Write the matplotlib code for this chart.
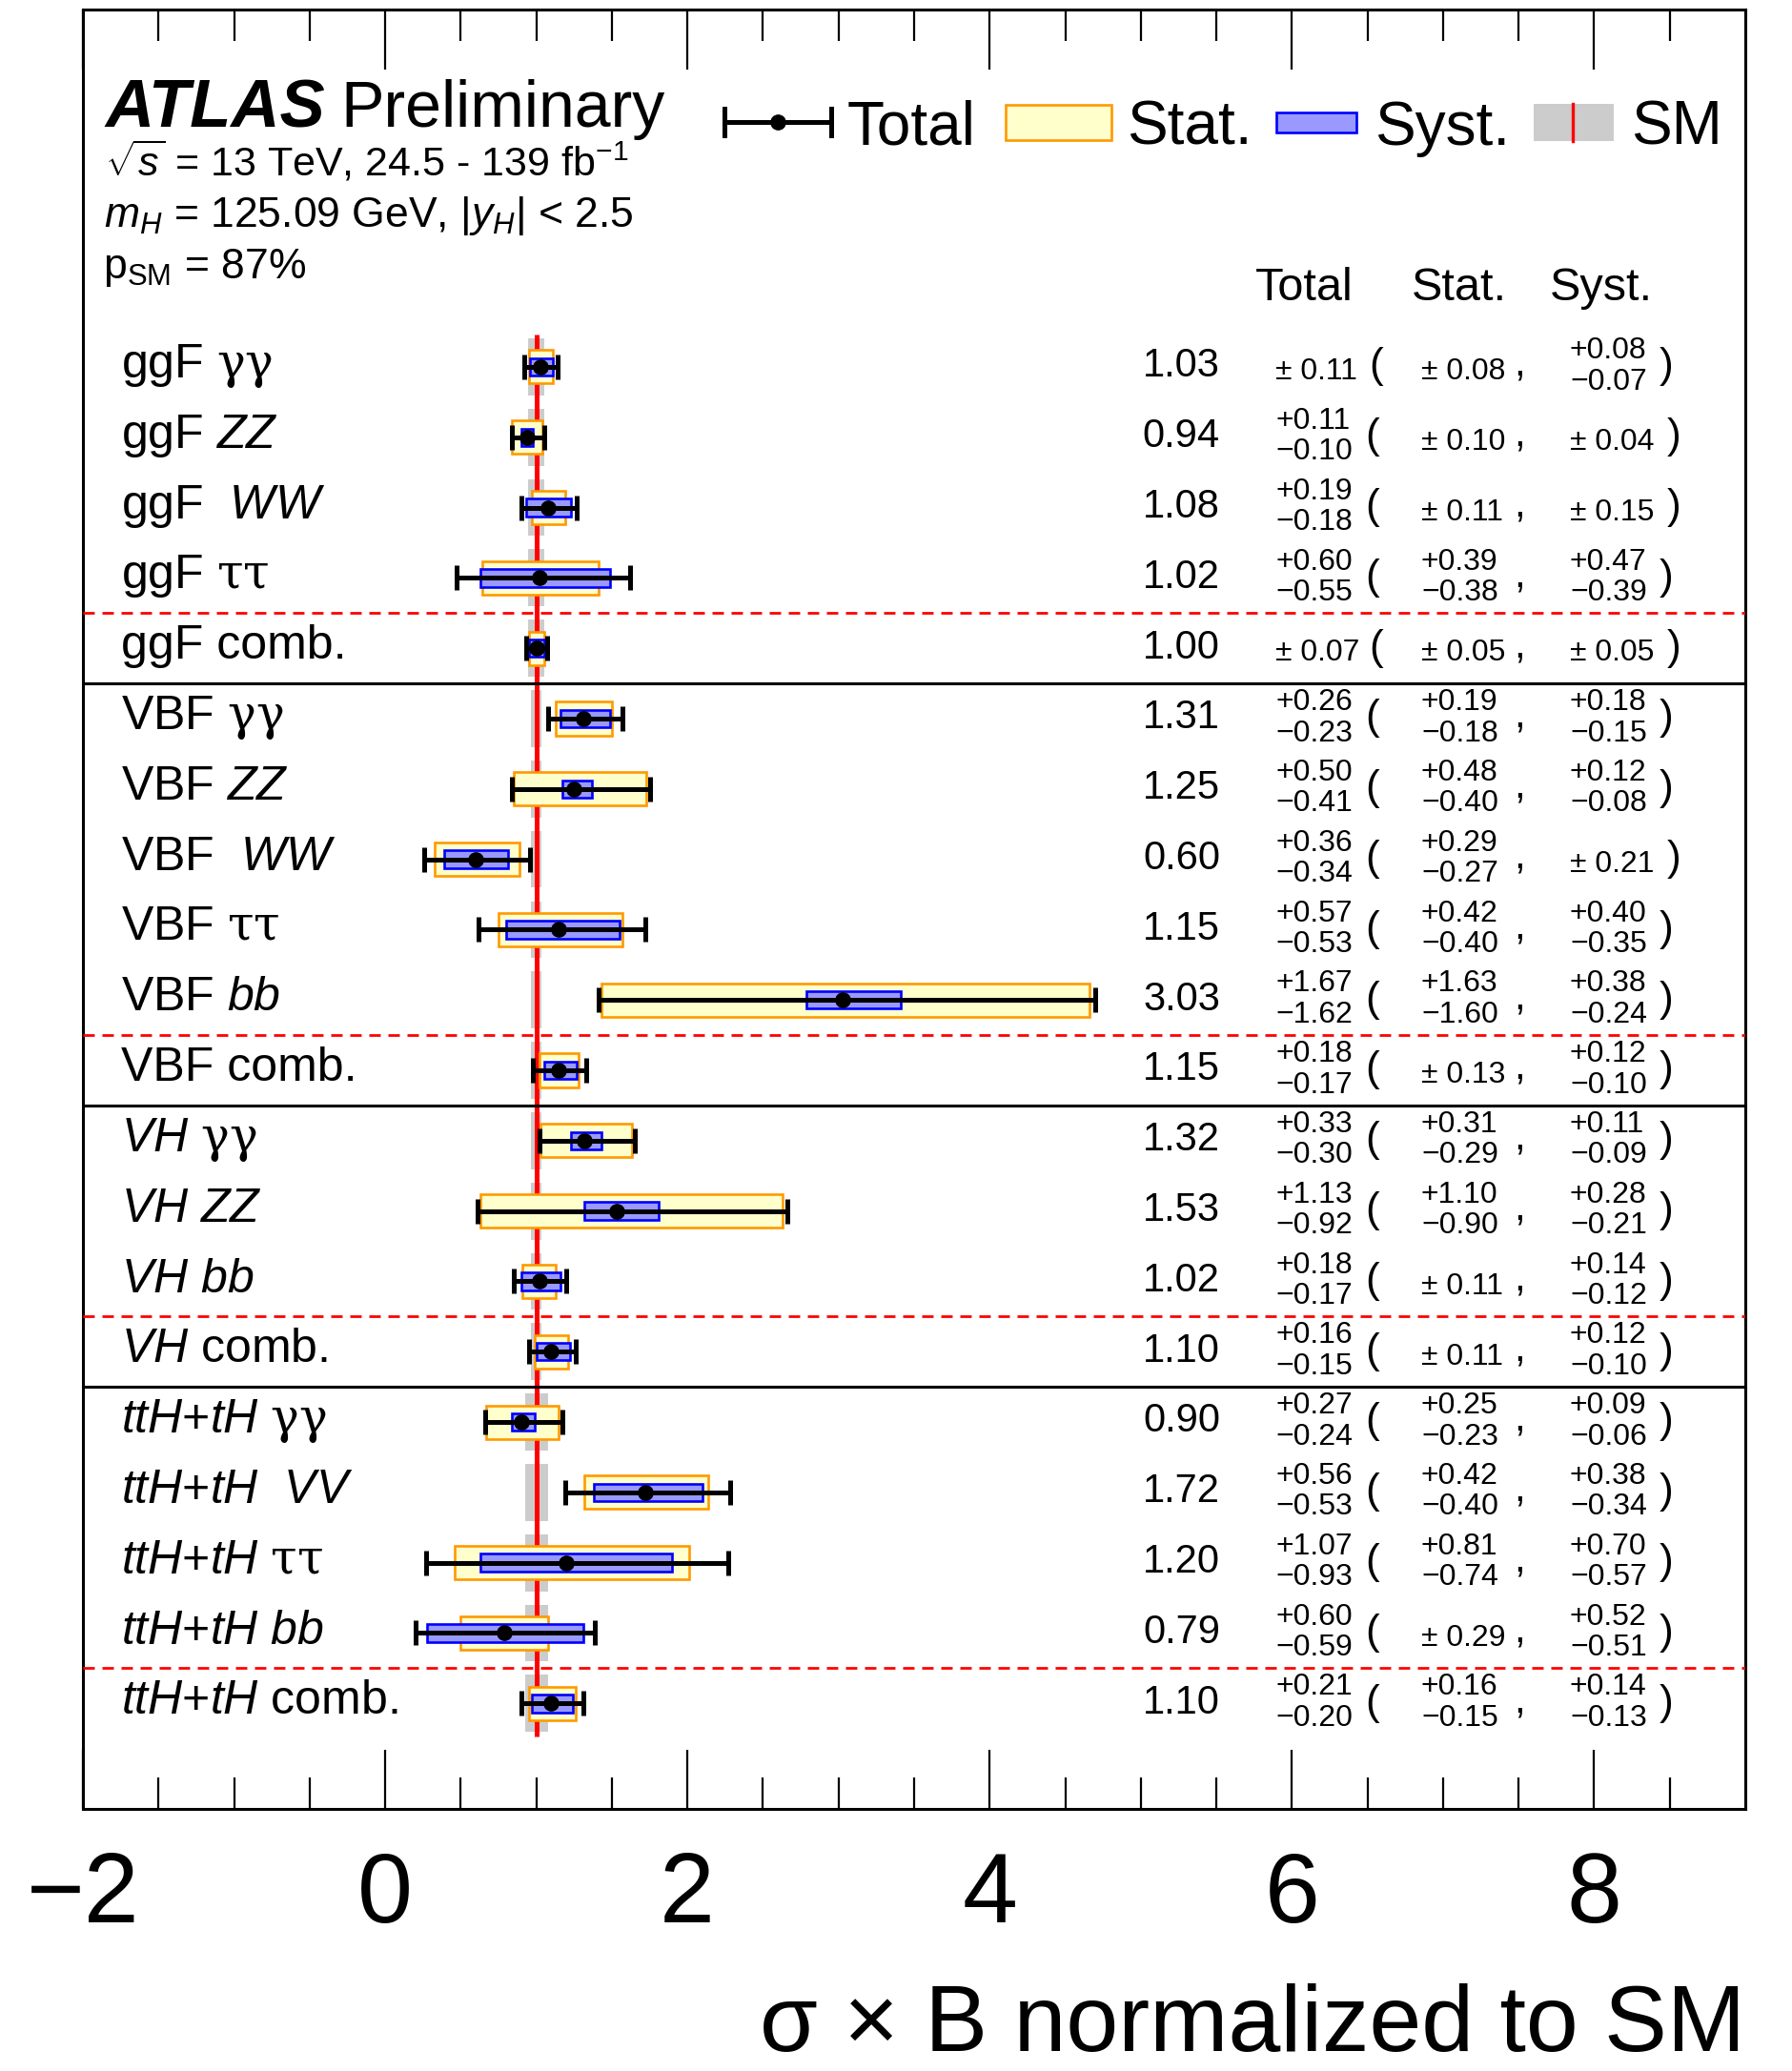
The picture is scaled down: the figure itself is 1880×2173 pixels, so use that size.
import matplotlib
matplotlib.use("Agg")
import matplotlib.pyplot as plt
import numpy as np

plt.rcParams['font.family'] = 'Liberation Sans'
plt.rcParams['mathtext.fontset'] = 'custom'
plt.rcParams['mathtext.rm'] = 'Liberation Sans'
plt.rcParams['mathtext.it'] = 'Liberation Sans:italic'
plt.rcParams['mathtext.bf'] = 'Liberation Sans:bold'
# greek decay products are set in a serif face
plt.rcParams['mathtext.sf'] = 'DejaVu Serif'

# measurements, top to bottom
labels = [
    r"ggF $\mathsf{γγ}$", "ggF $ZZ$", "ggF  $WW$", r"ggF $\mathsf{ττ}$", "ggF comb.",
    r"VBF $\mathsf{γγ}$", "VBF $ZZ$", "VBF  $WW$", r"VBF $\mathsf{ττ}$", "VBF $bb$",
    "VBF comb.",
    r"$VH$ $\mathsf{γγ}$", "$VH$ $ZZ$", "$VH$ $bb$", "$VH$ comb.",
    r"$ttH$+$tH$ $\mathsf{γγ}$", "$ttH$+$tH$  $VV$", r"$ttH$+$tH$ $\mathsf{ττ}$",
    "$ttH$+$tH$ $bb$", "$ttH$+$tH$ comb.",
]
mu = [1.03, 0.94, 1.08, 1.02, 1.00, 1.31, 1.25, 0.60, 1.15, 3.03, 1.15,
      1.32, 1.53, 1.02, 1.10, 0.90, 1.72, 1.20, 0.79, 1.10]
tot_hi = [0.11, 0.11, 0.19, 0.60, 0.07, 0.26, 0.50, 0.36, 0.57, 1.67, 0.18,
          0.33, 1.13, 0.18, 0.16, 0.27, 0.56, 1.07, 0.60, 0.21]
tot_lo = [0.11, 0.10, 0.18, 0.55, 0.07, 0.23, 0.41, 0.34, 0.53, 1.62, 0.17,
          0.30, 0.92, 0.17, 0.15, 0.24, 0.53, 0.93, 0.59, 0.20]
stat_hi = [0.08, 0.10, 0.11, 0.39, 0.05, 0.19, 0.48, 0.29, 0.42, 1.63, 0.13,
           0.31, 1.10, 0.11, 0.11, 0.25, 0.42, 0.81, 0.29, 0.16]
stat_lo = [0.08, 0.10, 0.11, 0.38, 0.05, 0.18, 0.40, 0.27, 0.40, 1.60, 0.13,
           0.29, 0.90, 0.11, 0.11, 0.23, 0.40, 0.74, 0.29, 0.15]
syst_hi = [0.08, 0.04, 0.15, 0.47, 0.05, 0.18, 0.12, 0.21, 0.40, 0.38, 0.12,
           0.11, 0.28, 0.14, 0.12, 0.09, 0.38, 0.70, 0.52, 0.14]
syst_lo = [0.07, 0.04, 0.15, 0.39, 0.05, 0.15, 0.08, 0.21, 0.35, 0.24, 0.10,
           0.09, 0.21, 0.12, 0.10, 0.06, 0.34, 0.57, 0.51, 0.13]
# SM theory uncertainty (half width of grey band)
sm_unc = [0.055] * 5 + [0.035] * 6 + [0.035] * 4 + [0.075] * 5

dashed_after = [3.5, 9.5, 13.5, 18.5]
solid_after = [4.5, 10.5, 14.5]

YELLOW = '#ffffcc'
ORANGE = '#ff9900'
PERI = '#9999ff'
BLUE = '#0000ff'
GREY = '#cccccc'
RED = '#ff0000'

W, H = 1880, 2173
L, R, T, B = 87, 1831, 10, 1898


def fx(px):
    return (px - L) / (R - L)


def fy(py):
    return (B - py) / (B - T)


fig = plt.figure(figsize=(W / 100, H / 100), dpi=100)
ax = fig.add_axes([L / W, 1 - B / H, (R - L) / W, (B - T) / H])

rows = np.arange(len(mu))
mu_a = np.array(mu)
n = len(mu)

ax.barh(rows, 2 * np.array(sm_unc), left=1 - np.array(sm_unc), height=0.81,
        color=GREY, lw=0, zorder=1)
ax.vlines(1.0, -0.46, n - 1 + 0.47, color=RED, lw=3.6, zorder=2)

sh, sl = np.array(stat_hi), np.array(stat_lo)
ax.barh(rows, sh + sl, left=mu_a - sl, height=0.475, color=YELLOW,
        edgecolor=ORANGE, lw=1.9, zorder=3)
yh, yl = np.array(syst_hi), np.array(syst_lo)
ax.barh(rows, yh + yl, left=mu_a - yl, height=0.25, color=PERI,
        edgecolor=BLUE, lw=1.9, zorder=4)
ax.errorbar(mu_a, rows, xerr=[tot_lo, tot_hi], fmt='o', color='black',
            ms=11, elinewidth=3.6, capsize=9.7, capthick=3.6, zorder=5)

for y in dashed_after:
    ax.axhline(y, color=RED, lw=2.0, dashes=(4.3, 2.9), zorder=6)
for y in solid_after:
    ax.axhline(y, color='black', lw=2.2, zorder=6)

ax.set_xlim(-2, 9)
ax.set_ylim(20.5, -5.08)
ax.set_yticks([])
ax.set_xticks([-2, 0, 2, 4, 6, 8])
ax.set_xticks(np.arange(-1.5, 9.0, 0.5), minor=True)
ax.tick_params(axis='x', which='both', direction='in', top=True, bottom=True,
               width=1.6, labelsize=75, pad=32)
ax.tick_params(axis='x', which='major', length=45)
ax.tick_params(axis='x', which='minor', length=24)
for s in ax.spines.values():
    s.set_linewidth(2.2)

ax.set_xlabel("σ × B normalized to SM", fontsize=71, ha='right', va='baseline')
ax.xaxis.set_label_coords(1.0, fy(2152))

# table of numbers on the right
trans = ax.get_yaxis_transform()
x_val, x_tot, x_lp, x_stat, x_com, x_syst, x_rp = (
    fx(1280), fx(1338), fx(1432), fx(1491), fx(1588), fx(1647), fx(1741))
SMALL = 23


def unc(x, y, hi, lo):
    if hi == lo:
        ax.text(x, y + 0.18, f"± {hi:.2f}", fontsize=SMALL, va='baseline',
                transform=trans)
    else:
        ax.text(x, y - 0.12, f"+{hi:.2f}", fontsize=SMALL, va='baseline',
                transform=trans)
        ax.text(x, y + 0.32, f"\u2212{lo:.2f}", fontsize=SMALL, va='baseline',
                transform=trans)


for i in range(n):
    ax.text(fx(127), i + 0.15, labels[i], fontsize=36, va='baseline',
            transform=trans)
    ax.text(x_val, i + 0.14, f"{mu[i]:.2f}", fontsize=30, ha='right',
            va='baseline', transform=trans)
    unc(x_tot, i, tot_hi[i], tot_lo[i])
    unc(x_stat, i, stat_hi[i], stat_lo[i])
    unc(x_syst, i, syst_hi[i], syst_lo[i])
    # brackets sit a little further out after a single "±" entry
    lp = x_lp + (fx(1436) - fx(1432) if tot_hi[i] == tot_lo[i] else 0)
    rp = x_rp + (fx(1749) - fx(1741) if syst_hi[i] == syst_lo[i] else 0)
    ax.text(lp, i + 0.155, "(", fontsize=32, va='baseline', transform=trans)
    ax.text(x_com, i + 0.12, ",", fontsize=30, va='baseline', transform=trans)
    ax.text(rp, i + 0.155, ")", fontsize=32, va='baseline', transform=trans)

for txt, xc in [("Total", 1368), ("Stat.", 1531), ("Syst.", 1680)]:
    ax.text(fx(xc), fy(315), txt, fontsize=35, ha='center', va='baseline',
            transform=ax.transAxes)

# header
ax.text(fx(110), fy(133), "ATLAS", fontsize=51, fontweight='bold',
        fontstyle='italic', va='baseline', transform=ax.transAxes)
ax.text(fx(357), fy(133), "Preliminary", fontsize=49, va='baseline',
        transform=ax.transAxes)
ax.text(fx(110), fy(185), r"$\sqrt{s}$ = 13 TeV, 24.5 - 139 fb$^{-1}$",
        fontsize=31, va='baseline', transform=ax.transAxes)
ax.text(fx(109), fy(238), r"$m_{H}$ = 125.09 GeV, |$y_{H}$| < 2.5",
        fontsize=32, va='baseline', transform=ax.transAxes)
ax.text(fx(108), fy(292), r"p$_{\mathrm{SM}}$ = 87%",
        fontsize=32, va='baseline', transform=ax.transAxes)

# legend
ly = fy(128)
cap = 14 / (B - T)
kw = dict(transform=ax.transAxes, clip_on=False, zorder=7)
ax.plot([fx(760), fx(872)], [ly, ly], color='black', lw=3.6, **kw)
for xx in (760, 872):
    ax.plot([fx(xx), fx(xx)], [ly - cap, ly + cap], color='black', lw=3.6, **kw)
ax.plot([fx(816)], [ly], 'o', color='black', ms=11, **kw)
ax.add_patch(plt.Rectangle((fx(1055), fy(147)), fx(1166) - fx(1055),
                           fy(110) - fy(147), facecolor=YELLOW,
                           edgecolor=ORANGE, lw=1.9, **kw))
ax.add_patch(plt.Rectangle((fx(1339), fy(139)), fx(1423) - fx(1339),
                           fy(118) - fy(139), facecolor=PERI,
                           edgecolor=BLUE, lw=1.9, **kw))
ax.add_patch(plt.Rectangle((fx(1609), fy(148)), fx(1693) - fx(1609),
                           fy(109) - fy(148), facecolor=GREY, lw=0, **kw))
ax.plot([fx(1650), fx(1650)], [fy(148), fy(109)], color=RED, lw=2.4, **kw)
for txt, xx in [("Total", 889), ("Stat.", 1182), ("Syst.", 1442), ("SM", 1711)]:
    ax.text(fx(xx), fy(152), txt, fontsize=46, va='baseline',
            transform=ax.transAxes)

fig.savefig("out.png", dpi=100)
